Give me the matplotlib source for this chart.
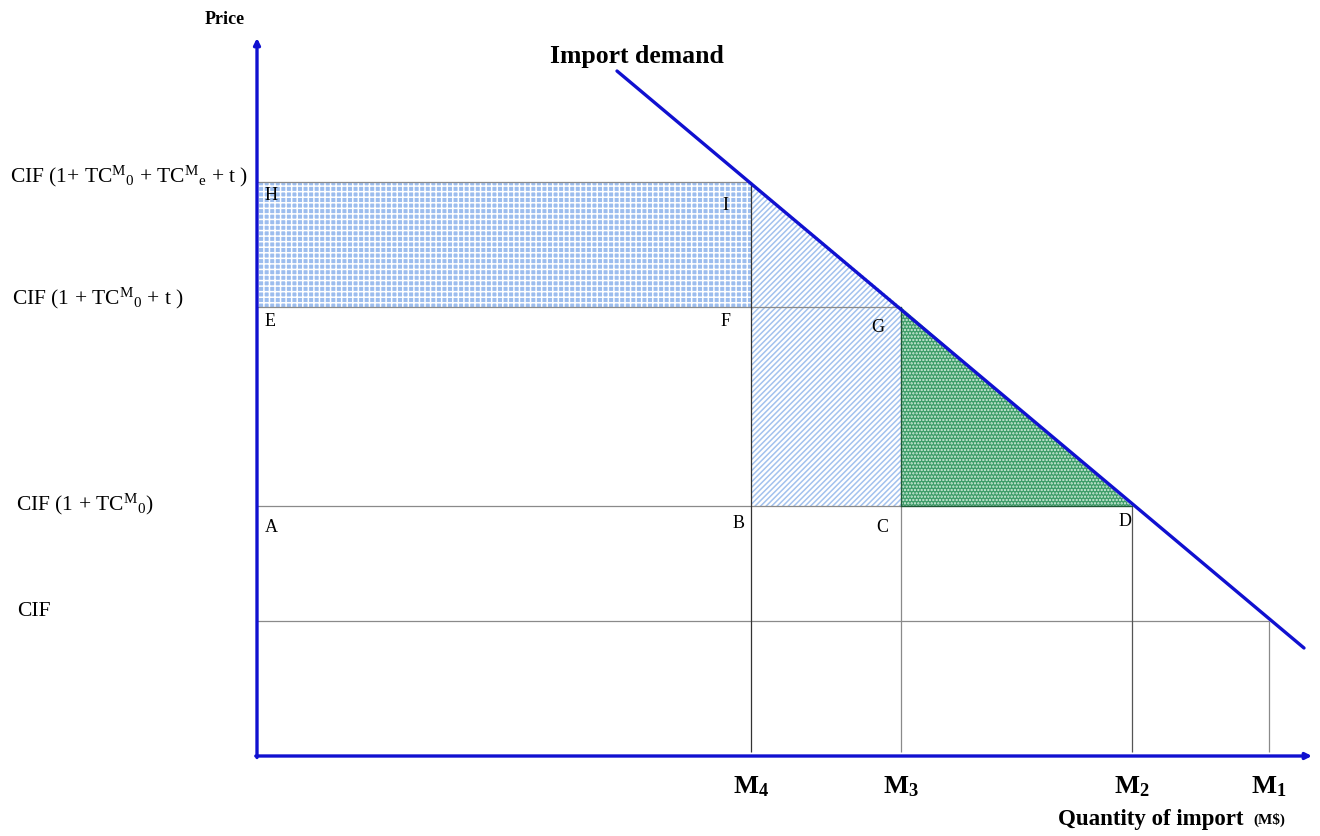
import matplotlib.pyplot as plt
import matplotlib.patches as mpatches

plt.rcParams['font.family'] = ['Liberation Serif', 'DejaVu Serif']
plt.rcParams['mathtext.fontset'] = 'custom'
plt.rcParams['mathtext.rm'] = 'Liberation Serif'
plt.rcParams['mathtext.it'] = 'Liberation Serif:italic'
plt.rcParams['mathtext.bf'] = 'Liberation Serif:bold'
plt.rcParams['hatch.linewidth'] = 1.1

# quantities (import volumes)
q_names = ['M4', 'M3', 'M2', 'M1']
q_vals = [49.4, 64.4, 87.5, 101.2]
# price levels
p_cif = 13.5
p_tc0 = 25.0
p_tc0_t = 44.9
p_top = 57.4
# import demand line (end points)
demand_q = [36.0, 104.7]
demand_p = [68.5, 10.8]

BLUE = '#1010d0'
GRAY = '#8a8a8a'

fig = plt.figure(figsize=(13.2, 8.37), dpi=100)
ax = fig.add_axes([0, 0, 1, 1])
ax.set_xlim(-25.7, 106.3)
ax.set_ylim(-8.0, 75.7)
ax.axis('off')

M4, M3, M2, M1 = q_vals

# shaded areas
rect = mpatches.Rectangle((0, p_tc0_t), M4, p_top - p_tc0_t, facecolor='#9cbdee',
                          edgecolor='white', hatch='+++', lw=0, zorder=1)
ax.add_patch(rect)
trap = mpatches.Polygon([(M4, p_top), (M4, p_tc0), (M3, p_tc0), (M3, p_tc0_t)],
                        closed=True, facecolor='white', edgecolor='#a3c2ee',
                        hatch='//////', lw=0, zorder=1)
ax.add_patch(trap)
tri = mpatches.Polygon([(M3, p_tc0_t), (M3, p_tc0), (M2, p_tc0)], closed=True,
                       facecolor='#3c9c68', edgecolor='#d8f0e0', hatch='.....',
                       lw=0, zorder=1)
ax.add_patch(tri)

# guide lines
ax.hlines([p_top, p_tc0_t, p_tc0, p_cif], 0, [M4, M3, M2, M1], color=GRAY, lw=0.9, zorder=2)
ax.vlines([M4, M3, M2, M1], 0.4, [p_top, p_tc0_t, p_tc0, p_cif],
          color=['#333333', GRAY, '#555555', GRAY], lw=0.9, zorder=2)
ax.plot([M3, M3], [p_tc0, p_tc0_t], color='#1d5a35', lw=0.9, zorder=2)
ax.plot([M3, M2], [p_tc0, p_tc0], color='#1d5a35', lw=0.9, zorder=2)

# demand line
ax.plot(demand_q, demand_p, color=BLUE, lw=2.4, zorder=3, solid_capstyle='round')
ax.text(38.0, 70.0, 'Import demand', fontsize=18.5, fontweight='bold', ha='center', va='center')

# axes with arrows
ax.annotate('', xy=(0, 71.8), xytext=(0, -0.15),
            arrowprops=dict(arrowstyle='-|>', color=BLUE, lw=2.4, mutation_scale=9, shrinkA=0, shrinkB=0))
ax.annotate('', xy=(105.5, 0), xytext=(-0.12, 0),
            arrowprops=dict(arrowstyle='-|>', color=BLUE, lw=2.4, mutation_scale=9, shrinkA=0, shrinkB=0))
ax.text(-3.2, 73.8, 'Price', fontsize=13, fontweight='bold', ha='center', va='center')
ax.text(98.6, -6.3, 'Quantity of import', fontsize=16.5, fontweight='bold', ha='right', va='center')
ax.text(102.8, -6.3, r'(M\$)', fontsize=11, fontweight='bold', ha='right', va='center')

# price labels
lbl = dict(fontsize=15.5, va='center', ha='left')
ax.text(-24.7, 58.1, r'CIF (1+ TC$\mathregular{^{M}{}_{0}}$ + TC$\mathregular{^{M}{}_{e}}$ + t )', **lbl)
ax.text(-24.5, 45.9, r'CIF (1 + TC$\mathregular{^{M}{}_{0}}$ + t )', **lbl)
ax.text(-24.1, 25.3, r'CIF (1 + TC$\mathregular{^{M}{}_{0}}$)', **lbl)
ax.text(-24.0, 14.5, 'CIF', **lbl)

# quantity labels
for name, q in zip(q_names, q_vals):
    ax.text(q, -1.7, r'$\mathbf{M_{%s}}$' % name[1], fontsize=19, ha='center', va='top')

# point letters
pts = dict(fontsize=13, ha='left', va='center')
ax.text(0.8, 56.1, 'H', **pts)
ax.text(46.5, 55.2, 'I', **pts)
ax.text(0.8, 43.5, 'E', **pts)
ax.text(46.4, 43.5, 'F', **pts)
ax.text(61.4, 42.9, 'G', **pts)
ax.text(0.8, 22.9, 'A', **pts)
ax.text(47.6, 23.4, 'B', **pts)
ax.text(61.9, 22.9, 'C', **pts)
ax.text(86.2, 23.5, 'D', **pts)

fig.savefig('out.png', dpi=100)
